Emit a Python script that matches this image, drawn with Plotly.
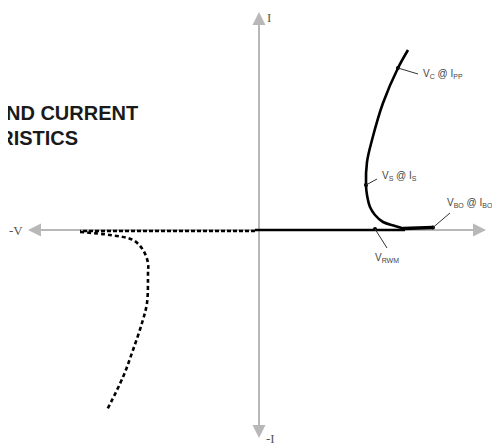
import plotly.graph_objects as go

# Reverse (dashed) branch: voltage, current
rev_v = [-4, -179]
rev_i = [-1, -1]
rev_knee_v = [-179, -149, -126, -116, -111, -111, -112, -117, -126, -136, -152]
rev_knee_i = [-2, -5, -10, -20, -33, -43, -73, -93, -120, -147, -180]

# Forward (solid) branch
fwd_axis_v = [-4, 146]
fwd_axis_i = [0, 0]
bo_v = [144, 174]
bo_i = [1.5, 2.5]
fwd_v = [146, 136, 124, 116, 111, 108, 107, 108, 113, 124, 139, 149]
fwd_i = [1, 4, 8, 15, 23, 35, 45, 68, 90, 127, 162, 180]

# Labelled points
pt_names = ["V<sub>C</sub> @ I<sub>PP</sub>", "V<sub>S</sub> @ I<sub>S</sub>",
            "V<sub>BO</sub> @ I<sub>BO</sub>", "V<sub>RWM</sub>"]
pt_v = [139, 107, 174, 116]
pt_i = [162, 45, 2.5, 1]
lead_end_v = [159, 118, 191, 128]
lead_end_i = [156, 51, 17, -18]
lab_v = [162, 121, 186, 128]
lab_i = [156, 54, 27, -28]

fig = go.Figure()

fig.add_trace(go.Scatter(x=rev_v, y=rev_i, mode="lines",
                         line=dict(color="black", width=2.6, dash="4px,2px")))
fig.add_trace(go.Scatter(x=rev_knee_v, y=rev_knee_i, mode="lines", line_shape="spline",
                         line=dict(color="black", width=2.6, dash="4px,3px")))
fig.add_trace(go.Scatter(x=fwd_axis_v, y=fwd_axis_i, mode="lines",
                         line=dict(color="black", width=2.6)))
fig.add_trace(go.Scatter(x=bo_v, y=bo_i, mode="lines",
                         line=dict(color="black", width=3.5)))
fig.add_trace(go.Scatter(x=fwd_v, y=fwd_i, mode="lines", line_shape="spline",
                         line=dict(color="black", width=2.6)))
fig.add_trace(go.Scatter(x=pt_v, y=pt_i, mode="markers",
                         marker=dict(color="black", size=4)))

gray = "#b8b8b8"
# axis lines
fig.add_shape(type="line", x0=-224, x1=222, y0=0, y1=0, layer="below",
              line=dict(color=gray, width=2))
fig.add_shape(type="line", x0=0, x1=0, y0=-205, y1=214, layer="below",
              line=dict(color=gray, width=2))
# arrowheads
for (tx, ty, hx, hy) in [(-231, 0, -215, 0), (227, 0, 211, 0), (0, 218, 0, 202), (0, -208, 0, -192)]:
    fig.add_annotation(x=tx, y=ty, ax=hx, ay=hy, axref="x", ayref="y", xref="x", yref="y",
                       showarrow=True, arrowhead=2, arrowsize=1.3, arrowwidth=2,
                       arrowcolor=gray, text="")

# leaders
for v0, i0, v1, i1 in zip(pt_v, pt_i, lead_end_v, lead_end_i):
    fig.add_shape(type="line", x0=v0, y0=i0, x1=v1, y1=i1,
                  line=dict(color="#333333", width=1))

lab_font = dict(family="Liberation Sans, Arial", size=10, color="#444444")
for k, (name, lv, li) in enumerate(zip(pt_names, lab_v, lab_i)):
    fig.add_annotation(x=lv, y=li, text=name, showarrow=False,
                       xanchor="center" if k == 3 else "left", yanchor="middle",
                       font=lab_font)

serif = dict(family="Liberation Serif, Times New Roman", size=13, color="#555555")
fig.add_annotation(x=-243, y=0, text="-V", showarrow=False, font=serif)
fig.add_annotation(x=236, y=0, text="V", showarrow=False, font=serif, xanchor="left")
fig.add_annotation(x=6, y=213, text="I", showarrow=False, font=serif, xanchor="left")
fig.add_annotation(x=5, y=-208, text="-I", showarrow=False, font=serif, xanchor="left")

title_font = dict(family="Liberation Sans, Arial", size=20, color="#1a1a1a")
fig.add_annotation(x=-119, y=117, text="<b>VOLTAGE AND CURRENT</b>", showarrow=False,
                   xanchor="right", yanchor="middle", font=title_font)
fig.add_annotation(x=-179, y=92, text="<b>CHARACTERISTICS</b>", showarrow=False,
                   xanchor="right", yanchor="middle", font=title_font)

fig.update_layout(
    width=500, height=444, margin=dict(l=0, r=0, t=0, b=0),
    showlegend=False, plot_bgcolor="white", paper_bgcolor="white",
    xaxis=dict(range=[-251, 249], visible=False, fixedrange=True),
    yaxis=dict(range=[-222, 222], visible=False, fixedrange=True),
)

fig.write_html("out.html")
